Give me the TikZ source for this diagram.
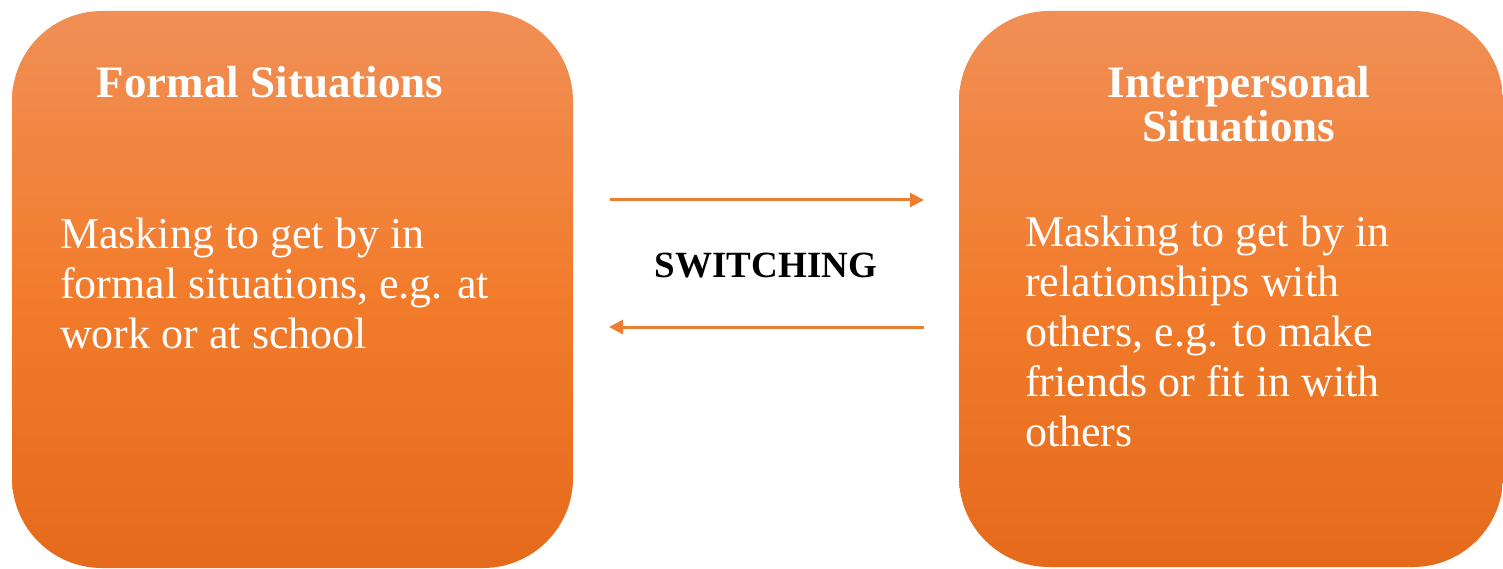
\documentclass[tikz,border=0pt]{standalone}
\usepackage{fontspec}
\setmainfont{Liberation Serif}
\usetikzlibrary{arrows.meta}
\definecolor{boxtop}{RGB}{240,143,86}
\definecolor{boxmid}{RGB}{242,124,44}
\definecolor{boxbot}{RGB}{229,106,28}
\definecolor{arrowc}{RGB}{237,125,49}
\tikzset{
  box/.style={rounded corners=90pt, top color=boxtop, bottom color=boxbot, middle color=boxmid, draw=none},
  title/.style={text=white, font=\fontsize{45}{44}\selectfont\bfseries, align=center, inner sep=0pt},
  body/.style={text=white, font=\fontsize{44}{50}\selectfont, align=left, inner sep=0pt},
  sw/.style={draw=arrowc, line width=3pt, -{Triangle[length=14pt,width=14pt]}},
}
\begin{document}
\begin{tikzpicture}[x=1pt,y=-1pt]
\useasboundingbox (0,0) rectangle (1503,569);
\path[box] (12,11) rectangle (573,568);
\path[box] (959,11) rectangle (1503,567);
\coordinate (a1s) at (610,200);
\coordinate (a1e) at (924,200);
\coordinate (a2s) at (924,327);
\coordinate (a2e) at (609,327);
\node[title, anchor=base] (ltitle) at (270,98) {Formal Situations};
\node[body, anchor=base west] (lbody) at (60,348) {Masking to get by in\\formal situations, e.g. at\\work or at school};
\node[title, anchor=base] (rtitle) at (1239,142) {Interpersonal\\Situations};
\node[body, anchor=base west] (rbody) at (1025,446) {Masking to get by in\\relationships with\\others, e.g. to make\\friends or fit in with\\others};
\node[anchor=base, inner sep=0pt, font=\fontsize{37}{40}\selectfont\bfseries] (switch) at (766,277) {SWITCHING};
\draw[sw] (a1s) -- (a1e);
\draw[sw] (a2s) -- (a2e);
\end{tikzpicture}
\end{document}
